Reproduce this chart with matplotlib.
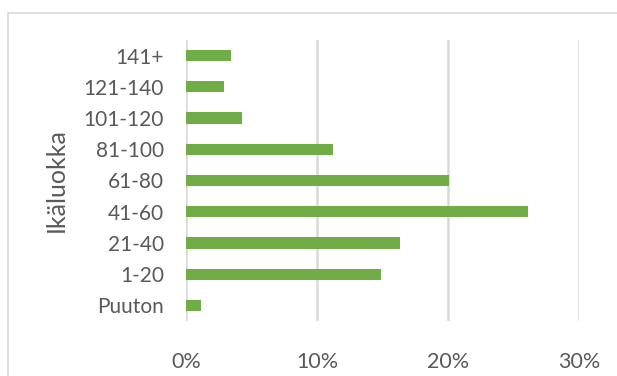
import matplotlib.pyplot as plt
from matplotlib.patches import Rectangle
from matplotlib.ticker import FuncFormatter

# age classes, bottom to top as drawn
classes = ["Puuton", "1-20", "21-40", "41-60", "61-80", "81-100", "101-120", "121-140", "141+"]
shares = [1.17, 14.9, 16.35, 26.1, 20.05, 11.2, 4.3, 2.9, 3.45]  # percent

plt.rcParams["font.family"] = ["Lato", "DejaVu Sans"]
TEXT = "#595959"
GRID = "#D9D9D9"

fig = plt.figure(figsize=(6.17, 3.76), dpi=100)
ax = fig.add_axes([0.3015, 0.1463, 0.6369, 0.7473])

ax.barh(classes, shares, height=0.36, color="#70AD47", zorder=3)

ax.set_xlim(0, 30)
ax.set_ylim(-0.5, len(classes) - 0.5)
ax.set_xticks([0, 10, 20, 30])
ax.xaxis.set_major_formatter(FuncFormatter(lambda v, _: f"{v:.0f}%"))
ax.grid(True, axis="x", color=GRID, linewidth=1.8, zorder=0)
ax.grid(False, axis="y")

for s in ax.spines.values():
    s.set_visible(False)
ax.tick_params(length=0, colors=TEXT)
ax.tick_params(axis="x", pad=22, labelsize=15.5)
ax.tick_params(axis="y", pad=16, labelsize=15)

ax.set_ylabel("Ikäluokka", fontsize=18, color=TEXT, labelpad=11)

# outer chart border (partly cut off in the original)
fig.patches.append(Rectangle((8 / 617, -0.1), 1.2, 1.1 - 13 / 376,
                             transform=fig.transFigure, fill=False,
                             edgecolor=GRID, linewidth=1.2))

fig.savefig("out.png", dpi=100)
